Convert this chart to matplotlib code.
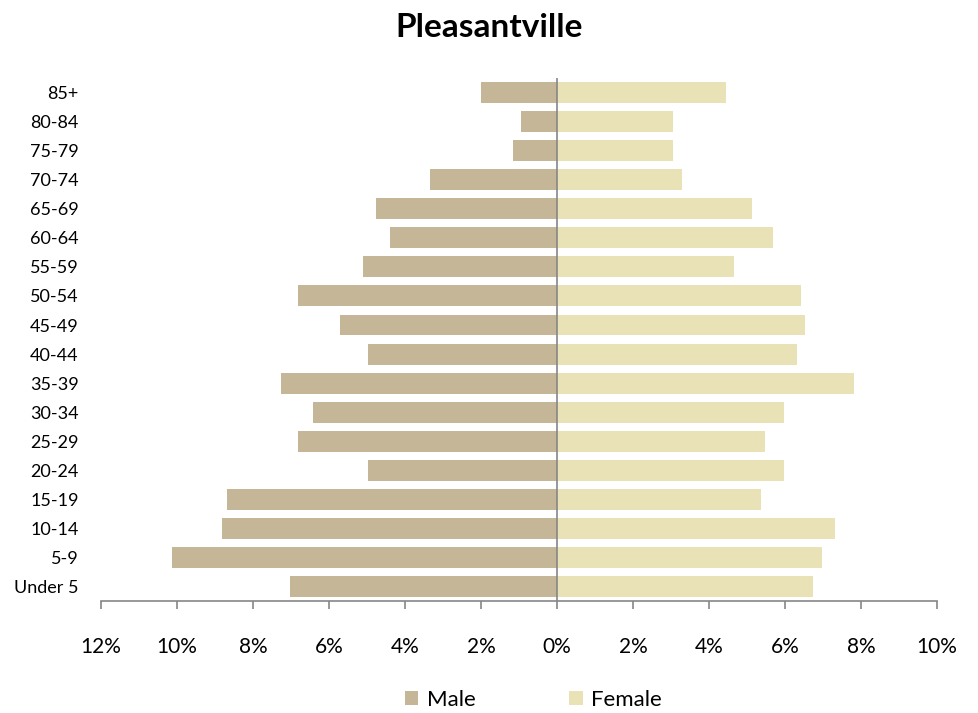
import matplotlib
matplotlib.use("Agg")
import matplotlib.pyplot as plt
from matplotlib.ticker import FuncFormatter

plt.rcParams["font.family"] = ["Lato", "DejaVu Sans"]

# age groups, bottom to top
age_groups = ["Under 5", "5-9", "10-14", "15-19", "20-24", "25-29", "30-34", "35-39",
              "40-44", "45-49", "50-54", "55-59", "60-64", "65-69", "70-74", "75-79",
              "80-84", "85+"]
male_pct = [7.03, 10.13, 8.82, 8.68, 4.97, 6.82, 6.42, 7.26, 4.97, 5.71, 6.82, 5.10,
            4.39, 4.76, 3.34, 1.16, 0.95, 2.00]
female_pct = [6.74, 6.97, 7.32, 5.37, 5.97, 5.47, 5.97, 7.82, 6.32, 6.53, 6.42, 4.65,
              5.68, 5.13, 3.29, 3.05, 3.05, 4.45]
x_ticks = [-12, -10, -8, -6, -4, -2, 0, 2, 4, 6, 8, 10]

male_color = "#C4B696"
female_color = "#EAE2B7"
axis_gray = "#868686"

fig = plt.figure(figsize=(9.79, 7.13), dpi=100)
ax = fig.add_axes([0.1032, 0.157, 0.8538, 0.7336])

ypos = list(range(len(age_groups)))
ax.barh(ypos, [-v for v in male_pct], height=0.72, color=male_color, label="Male")
ax.barh(ypos, female_pct, height=0.72, color=female_color, label="Female")
ax.axvline(0, color=axis_gray, lw=1.2)

ax.set_xlim(-12, 10)
ax.set_ylim(-0.5, len(age_groups) - 0.5)
ax.set_yticks(ypos)
ax.set_yticklabels(age_groups)
ax.set_xticks(x_ticks)
ax.xaxis.set_major_formatter(FuncFormatter(lambda v, _: f"{abs(v):.0f}%"))

for s in ["left", "top", "right"]:
    ax.spines[s].set_visible(False)
ax.spines["bottom"].set_color(axis_gray)
ax.spines["bottom"].set_linewidth(1.2)
ax.tick_params(axis="y", length=0, pad=16, labelsize=13)
ax.tick_params(axis="x", direction="out", length=6, width=1.2, color=axis_gray,
               pad=20, labelsize=15)

fig.suptitle("Pleasantville", y=0.982, fontsize=24, fontweight="bold")
fig.legend(loc="lower center", bbox_to_anchor=(0.545, -0.024), ncol=2, frameon=False,
           fontsize=16, handlelength=0.6, handleheight=0.6, handletextpad=0.4,
           columnspacing=4.2)

fig.savefig("out.png", dpi=100)
